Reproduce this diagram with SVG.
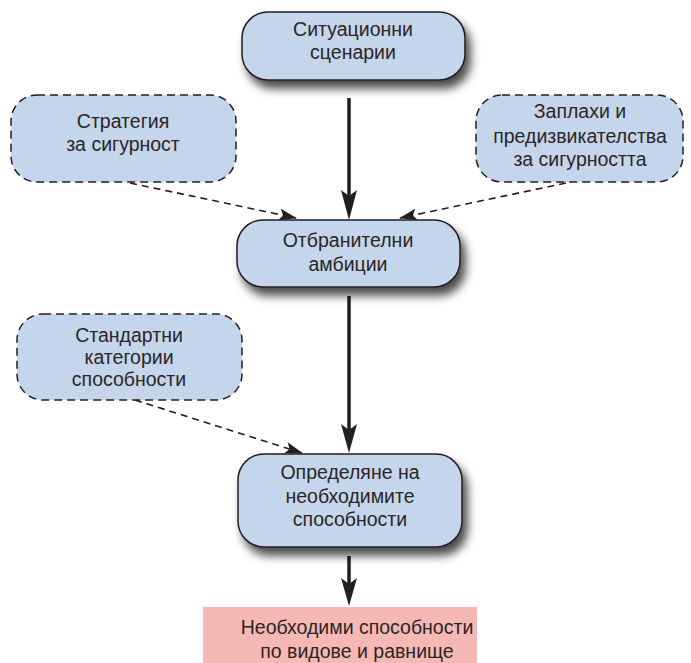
<svg xmlns="http://www.w3.org/2000/svg" width="691" height="663" viewBox="0 0 691 663">
<defs>
<filter id="sh" x="-10%" y="-20%" width="130%" height="170%">
<feDropShadow dx="5" dy="8" stdDeviation="5" flood-color="#000" flood-opacity="0.7"/>
</filter>
<marker id="ad" markerWidth="18" markerHeight="12" refX="17" refY="6" orient="auto" markerUnits="userSpaceOnUse" viewBox="0 0 18 12">
<path d="M0,0 L18,6 L0,12 L4,6 Z" fill="#231f20"/>
</marker>
</defs>
<style>
.n{fill:#c5d5eb;stroke:#231f20;stroke-width:1.5}
.d{fill:#c5d5eb;stroke:#231f20;stroke-width:1.5;stroke-dasharray:8,5}
.t{font-family:"Liberation Sans",Arial,sans-serif;font-size:19.5px;fill:#2a2627;text-anchor:middle}
.s{stroke:#231f20;stroke-width:3.5;fill:none}
.ds{stroke:#231f20;stroke-width:1.6;fill:none;stroke-dasharray:7,5}
.ah{fill:#231f20}
</style>
<g id="connectors">
<line class="s" x1="349" y1="98" x2="349" y2="200"/>
<path class="ah" d="M341,190 L349,196 L357,190 L349,220 Z"/>
<line class="s" x1="349" y1="296" x2="349" y2="434"/>
<path class="ah" d="M341,424 L349,430 L357,424 L349,453 Z"/>
<line class="s" x1="349" y1="556" x2="349" y2="588"/>
<path class="ah" d="M341,578 L349,584 L357,578 L349,606 Z"/>
<line class="ds" x1="130" y1="183" x2="296" y2="218" marker-end="url(#ad)"/>
<line class="ds" x1="566" y1="183" x2="400" y2="218" marker-end="url(#ad)"/>
<line class="ds" x1="135" y1="400" x2="302" y2="453" marker-end="url(#ad)"/>
</g>
<g id="n1">
<rect class="n" x="242" y="12" width="223" height="68" rx="26" filter="url(#sh)"/>
<text class="t" x="353" y="36">Ситуационни</text>
<text class="t" x="353" y="59">сценарии</text>
</g>
<g id="n2">
<rect class="d" x="11" y="95" width="225" height="87" rx="26"/>
<text class="t" x="123" y="128">Стратегия</text>
<text class="t" x="123" y="151">за сигурност</text>
</g>
<g id="n3">
<rect class="d" x="476" y="95" width="207" height="87" rx="26"/>
<text class="t" x="580" y="118">Заплахи и</text>
<text class="t" x="580" y="143">предизвикателства</text>
<text class="t" x="580" y="166">за сигурността</text>
</g>
<g id="n4">
<rect class="n" x="237" y="220" width="223" height="67" rx="26" filter="url(#sh)"/>
<text class="t" x="348" y="247">Отбранителни</text>
<text class="t" x="348" y="271">амбиции</text>
</g>
<g id="n5">
<rect class="d" x="17" y="314" width="225" height="86" rx="26"/>
<text class="t" x="129" y="342">Стандартни</text>
<text class="t" x="129" y="364">категории</text>
<text class="t" x="129" y="386">способности</text>
</g>
<g id="n6">
<rect class="n" x="238" y="454" width="224" height="93" rx="26" filter="url(#sh)"/>
<text class="t" x="350" y="479">Определяне на</text>
<text class="t" x="350" y="503">необходимите</text>
<text class="t" x="350" y="526">способности</text>
</g>
<g id="n7">
<rect x="203" y="607" width="274" height="56" fill="#f6b8b4"/>
<text class="t" x="357" y="634">Необходими способности</text>
<text class="t" x="357" y="658">по видове и равнище</text>
</g>
</svg>
